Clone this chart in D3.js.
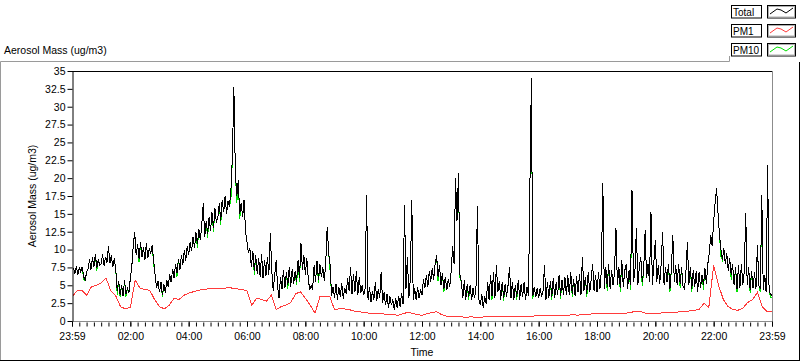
<!DOCTYPE html>
<html><head><meta charset="utf-8">
<script src="https://cdn.jsdelivr.net/npm/d3@7/dist/d3.min.js"></script>
<style>
html,body{margin:0;padding:0;background:#fff;}
svg{display:block;}
text{font-family:"Liberation Sans",Arial,sans-serif;font-size:10.5px;fill:#000;}
</style></head>
<body>
<svg id="chart" width="800" height="361"></svg>
<script>
// ---- data: minutes from 23:59; Total and PM10 at 3-min steps, PM1 at 10-min steps ----
const seriesNames = ["Total", "PM1", "PM10"];
const totalStep = 3;
const totalVals = [
6.5,7.4,6.6,7.7,6.4,7.5,6.9,7.6,6.2,5.7,6.8,7.3,8.6,7.2,8.9,7.5,9.4,7.4,8.6,7.8,
8.0,9.3,7.7,9.0,8.2,10.5,8.1,9.2,7.5,8.8,7.2,4.2,5.6,3.6,5.0,3.5,5.7,3.8,4.6,3.9,
6.0,7.6,10.5,12.5,9.2,10.8,8.7,11.0,9.0,10.4,8.6,10.9,8.8,10.2,9.4,10.6,8.5,6.4,4.6,5.6,
4.0,5.5,3.6,5.2,3.9,5.8,4.8,6.5,5.4,7.3,6.0,8.0,6.7,8.7,7.1,9.3,7.8,10.0,8.4,10.5,
9.2,11.0,9.8,11.8,10.2,12.4,10.8,12.9,11.3,13.5,16.5,11.8,14.0,12.2,14.6,12.6,15.2,13.0,15.8,13.8,
14.5,16.5,14.0,17.0,15.2,17.5,15.0,16.8,16.0,18.5,23.0,32.8,21.0,17.5,19.7,15.0,16.5,14.5,17.0,12.5,
11.0,9.5,10.2,7.5,9.8,7.0,9.2,6.6,8.8,6.2,9.4,6.0,8.6,6.3,9.0,6.5,12.3,7.0,4.2,6.5,
8.5,4.8,3.2,6.2,4.5,7.2,4.6,6.8,5.0,7.6,4.8,7.3,5.2,7.0,5.5,8.5,6.0,10.9,7.2,9.2,
6.5,8.8,6.0,4.3,5.0,4.4,7.8,5.5,8.4,5.8,8.0,6.2,7.5,5.6,8.2,13.2,9.5,7.8,3.5,4.8,
3.2,5.2,3.0,4.8,3.4,5.3,3.1,4.6,3.8,6.0,4.2,7.5,3.8,6.6,4.0,7.0,3.6,6.2,3.9,5.0,
3.6,4.5,17.6,3.0,4.8,2.6,4.2,3.0,5.5,2.8,4.5,3.2,6.9,2.5,4.0,2.2,3.8,1.8,3.5,2.2,
3.0,1.6,3.2,1.8,3.5,2.0,3.9,2.4,16.2,4.5,9.0,3.2,6.0,17.0,3.0,4.6,2.9,4.8,3.2,4.4,
3.6,5.8,4.6,6.5,4.8,7.0,5.5,7.4,5.8,8.0,9.2,6.2,7.8,5.0,6.7,4.5,6.2,4.3,5.8,4.8,
7.0,10.5,8.0,20.0,14.0,20.7,6.5,5.5,3.2,5.7,3.0,5.2,3.4,5.0,2.9,4.6,3.2,4.5,16.1,3.0,
2.2,3.8,1.8,3.5,2.4,5.5,3.0,6.5,3.5,6.8,3.2,7.8,4.0,5.6,3.0,5.5,3.2,5.2,3.4,5.0,
7.6,3.2,5.5,3.0,5.0,3.4,5.7,3.0,5.2,3.3,5.4,2.9,4.8,3.5,18.9,34.0,3.5,4.8,3.3,4.6,
3.2,4.6,3.4,4.2,7.8,3.0,5.5,3.2,5.6,3.4,6.0,3.2,5.4,3.6,6.5,3.5,5.8,3.7,6.2,3.6,
6.4,3.6,6.8,3.8,5.9,3.5,6.3,4.0,6.6,3.6,9.0,4.2,6.2,3.8,6.9,4.0,5.8,8.0,4.2,6.5,
4.0,6.8,4.5,7.0,19.3,4.5,7.6,4.8,8.0,4.5,7.2,5.0,6.8,13.0,5.0,7.5,4.6,8.5,4.8,7.0,
8.0,4.5,7.2,5.0,18.3,5.5,6.8,13.0,5.0,7.5,9.0,5.5,7.0,12.7,6.0,8.0,5.5,15.3,5.0,8.2,
11.3,5.5,7.8,5.2,8.0,12.5,5.0,7.6,5.4,8.0,4.5,7.2,12.0,5.5,7.8,5.0,8.0,5.2,7.5,4.8,
4.5,7.0,11.0,5.0,7.5,4.5,7.2,4.8,7.0,4.0,6.8,4.6,6.5,5.0,7.4,5.2,8.0,9.5,12.0,10.5,
14.0,16.5,18.6,15.0,12.0,10.0,8.5,10.2,8.0,9.5,7.0,8.8,6.5,8.0,5.0,7.5,4.5,7.8,4.6,8.0,
5.0,7.0,15.1,5.0,7.5,4.4,7.0,4.6,6.8,4.5,10.6,5.0,4.5,17.6,4.4,6.5,4.0,21.8,4.2,3.8,
3.5];
const pm10Vals = [
6.5,7.4,6.6,7.7,6.4,7.5,6.9,7.6,5.8,5.7,6.8,7.3,8.6,7.2,8.9,7.5,9.4,7.0,8.6,7.8,
8.0,9.3,7.7,9.0,8.2,10.5,8.1,9.2,7.5,8.8,7.2,3.7,5.6,3.3,5.0,3.5,5.7,3.4,4.6,3.9,
6.0,7.6,10.5,12.5,9.2,10.8,8.2,11.0,9.0,10.4,8.6,10.9,8.8,10.2,9.4,10.6,8.0,6.4,4.6,5.6,
4.0,5.5,3.3,5.2,3.9,5.8,4.8,6.5,5.4,7.3,6.0,8.0,6.2,8.7,7.1,9.3,7.8,10.0,8.4,10.5,
9.2,11.0,9.8,11.8,10.2,12.4,10.2,12.9,11.3,13.5,16.5,11.8,14.0,11.6,14.6,12.6,15.2,12.4,15.8,13.8,
14.5,16.5,13.4,17.0,15.2,17.5,15.0,16.8,16.0,17.2,23.0,32.8,21.0,16.5,19.7,14.3,16.5,14.5,17.0,12.5,
11.0,9.5,10.2,7.5,9.8,6.5,9.2,6.6,8.8,6.2,9.4,6.0,8.6,6.3,9.0,6.5,12.3,7.0,4.2,6.5,
8.5,4.8,3.2,6.2,4.5,7.2,4.6,6.8,4.5,7.6,4.8,7.3,5.2,7.0,5.0,8.5,5.4,10.9,7.2,9.2,
6.5,8.8,6.0,4.3,5.0,4.4,7.8,5.5,8.4,5.3,8.0,6.2,7.5,5.6,8.2,13.2,9.5,7.0,3.5,4.8,
3.2,5.2,3.0,4.8,3.4,5.3,3.1,4.6,3.8,6.0,4.2,7.5,3.8,6.6,4.0,7.0,3.6,6.2,3.9,5.0,
3.6,4.5,17.6,3.0,4.8,2.6,4.2,3.0,5.5,2.8,4.5,3.2,6.9,2.5,4.0,2.2,3.8,1.8,3.5,2.2,
3.0,1.6,3.2,1.8,3.5,2.0,3.9,2.4,16.2,4.5,9.0,3.2,6.0,17.0,3.0,4.6,2.9,4.8,3.2,4.4,
3.6,5.8,4.6,6.5,4.8,7.0,5.5,7.4,5.8,8.0,9.2,5.6,7.8,5.0,6.7,4.0,6.2,4.3,5.8,4.8,
7.0,10.5,8.0,20.0,14.0,20.7,6.0,5.5,3.2,5.7,3.0,5.2,3.0,5.0,2.9,4.6,3.2,4.5,16.1,3.0,
2.2,3.8,1.8,3.5,2.4,5.5,3.0,6.5,3.0,6.8,3.2,7.8,4.0,5.6,3.0,5.5,2.8,5.2,3.4,5.0,
7.6,3.2,5.5,3.0,5.0,3.0,5.7,3.0,5.2,3.3,5.4,2.9,4.8,3.5,18.9,34.0,3.1,4.8,3.3,4.6,
3.2,4.6,3.4,4.2,7.8,3.0,5.5,3.2,5.6,3.0,6.0,3.2,5.4,3.6,6.5,3.1,5.8,3.7,6.2,3.6,
6.4,3.6,6.8,3.4,5.9,3.5,6.3,4.0,6.6,3.6,9.0,4.2,6.2,3.3,6.9,4.0,5.8,8.0,4.2,6.5,
4.0,6.8,4.5,7.0,19.3,4.5,7.6,4.2,8.0,4.5,7.2,5.0,6.8,13.0,5.0,7.5,4.0,8.5,4.8,7.0,
8.0,4.5,7.2,4.4,18.3,5.5,6.8,13.0,5.0,7.5,9.0,4.9,7.0,12.7,6.0,8.0,5.5,15.3,5.0,8.2,
11.3,5.5,7.8,5.2,8.0,12.5,5.0,7.6,5.4,8.0,4.0,7.2,12.0,5.5,7.8,5.0,8.0,4.6,7.5,4.8,
4.5,7.0,11.0,5.0,7.5,4.0,7.2,4.8,7.0,4.0,6.8,4.6,6.5,4.4,7.4,5.2,8.0,9.5,12.0,10.5,
14.0,16.5,18.6,15.0,12.0,9.0,8.5,10.2,8.0,9.5,7.0,8.8,5.8,8.0,5.0,7.5,4.0,7.8,4.6,8.0,
5.0,7.0,15.1,5.0,7.5,3.9,7.0,4.6,6.8,4.5,10.6,5.0,4.0,17.6,4.4,6.5,4.0,21.8,4.2,3.3,
3.2];
const pm1Step = 10;
const pm1Vals = [
3.4,4.2,4.3,3.6,4.8,5.0,5.3,6.0,4.2,3.5,
2.0,1.7,1.9,5.7,4.6,4.4,4.3,3.0,2.0,1.7,
2.2,3.2,3.0,3.6,3.9,4.1,4.3,4.4,4.5,4.5,
4.6,4.5,4.7,4.6,4.5,4.4,4.2,2.2,3.2,3.0,
2.8,3.6,1.6,2.0,2.2,2.6,3.8,4.1,3.2,2.2,
1.1,3.4,3.5,3.5,1.6,1.7,1.7,1.6,1.4,1.3,
1.2,1.1,1.1,1.0,1.0,0.9,0.9,0.8,1.0,1.2,
1.1,0.9,0.8,1.0,1.2,1.3,0.9,0.7,
0.7,0.6,0.6,0.5,0.6,0.5,0.5,0.6,0.6,0.6,0.7,0.6,0.6,0.7,0.7,0.6,
0.7,0.7,0.8,0.7,0.8,0.8,0.7,0.8,0.8,0.9,0.8,0.9,0.9,1.0,1.0,
1.0,1.1,1.1,1.0,1.1,1.1,1.2,1.4,1.3,1.1,1.1,1.1,1.1,1.2,1.2,1.2,
1.3,1.3,1.4,1.5,1.6,2.5,1.9,7.8,5.0,3.0,2.0,1.6,1.5,1.8,2.6,3.0,
4.0,2.0,1.3,1.3];
const xTickLabels = ["23:59","02:00","04:00","06:00","08:00","10:00","12:00","14:00","16:00","18:00","20:00","22:00","23:59"];
const yTickValues = [0,2.5,5,7.5,10,12.5,15,17.5,20,22.5,25,27.5,30,32.5,35];
const colors = {Total:"#000000", PM1:"#ff3b3b", PM10:"#00e000"};

// ---- layout ----
const svg = d3.select("#chart");
const L = 72, R = 772, T = 71, B = 321;
const x = d3.scaleLinear().domain([0, 1440]).range([L, R]);
const y = d3.scaleLinear().domain([0, 35]).range([B, T]);

// outer frame
svg.append("line").attr("x1",0.5).attr("x2",729.5).attr("y1",61.5).attr("y2",61.5).attr("stroke","#9a9a9a");
svg.append("line").attr("x1",0.5).attr("x2",0.5).attr("y1",61.5).attr("y2",360).attr("stroke","#9a9a9a");
svg.append("line").attr("x1",729.5).attr("x2",729.5).attr("y1",56).attr("y2",61.5).attr("stroke","#9a9a9a");
svg.append("line").attr("x1",799.5).attr("x2",799.5).attr("y1",62).attr("y2",361).attr("stroke","#000");
svg.append("line").attr("x1",0).attr("x2",800).attr("y1",360.5).attr("y2",360.5).attr("stroke","#000");

// title
svg.append("text").attr("x",4).attr("y",54).text("Aerosol Mass (ug/m3)");

// plot border
svg.append("line").attr("x1",L).attr("x2",R).attr("y1",T+0.5).attr("y2",T+0.5).attr("stroke","#000");
svg.append("line").attr("x1",R+0.5).attr("x2",R+0.5).attr("y1",T).attr("y2",B+1).attr("stroke","#8c8c8c");
svg.append("line").attr("x1",L).attr("x2",R+1).attr("y1",B+0.5).attr("y2",B+0.5).attr("stroke","#8c8c8c");

// clip
svg.append("clipPath").attr("id","clip").append("rect").attr("x",L+1).attr("y",T+1).attr("width",R-L-1).attr("height",B-T);

const g = svg.append("g").attr("clip-path","url(#clip)");
const lineT = d3.line().x((d,i)=>x(i*totalStep)).y(d=>y(d));
const line1 = d3.line().x((d,i)=>x(i*pm1Step)).y(d=>y(d));
g.append("path").datum(pm10Vals).attr("d",lineT).attr("fill","none").attr("stroke",colors.PM10).attr("stroke-width",1).attr("shape-rendering","crispEdges");
g.append("path").datum(pm1Vals).attr("d",line1).attr("fill","none").attr("stroke",colors.PM1).attr("stroke-width",1).attr("shape-rendering","crispEdges");
g.append("path").datum(totalVals).attr("d",lineT).attr("fill","none").attr("stroke",colors.Total).attr("stroke-width",1).attr("shape-rendering","crispEdges");

// y axis
const yAxis = d3.axisLeft(y).tickValues(yTickValues).tickSize(5).tickSizeOuter(0).tickPadding(2).tickFormat(d=>String(d));
const yg = svg.append("g").attr("transform",`translate(${L+0.5},0)`).call(yAxis);
yg.select(".domain").attr("stroke","#000");
yg.selectAll(".tick line").attr("stroke","#000");
yg.selectAll("text").style("font-family","Liberation Sans, Arial, sans-serif").style("font-size","10.5px");

// x axis minor ticks
const minor = d3.range(0, 1441, 15);
const xMinor = d3.axisBottom(x).tickValues(minor).tickSize(4).tickSizeOuter(0).tickFormat("");
const xm = svg.append("g").attr("transform",`translate(0,${B+1.5})`).call(xMinor);
xm.select(".domain").remove();
xm.selectAll(".tick line").attr("stroke","#000");
// major ticks with labels
const major = d3.range(0, 1441, 120);
const xMajor = d3.axisBottom(x).tickValues(major).tickSize(5).tickSizeOuter(0).tickPadding(6)
  .tickFormat((d,i)=>xTickLabels[i]);
const xg = svg.append("g").attr("transform",`translate(0,${B+0.5})`).call(xMajor);
xg.select(".domain").remove();
xg.selectAll(".tick line").attr("stroke","#000");
xg.selectAll("text").style("font-family","Liberation Sans, Arial, sans-serif").style("font-size","10.5px");

// axis titles
svg.append("text").attr("x",(L+R)/2).attr("y",356).attr("text-anchor","middle").text("Time");
svg.append("text").attr("transform",`translate(36,${(T+B)/2}) rotate(-90)`).attr("text-anchor","middle").text("Aerosol Mass (ug/m3)");

// legend
const legTop = [5, 24, 43];
seriesNames.forEach((name, k) => {
  const yy = legTop[k];
  svg.append("rect").attr("x",731.5).attr("y",yy+0.5).attr("width",30).attr("height",12.5).attr("fill","#fff").attr("stroke","#000");
  svg.append("text").attr("x",733).attr("y",yy+11).style("font-size","10px").text(name);
  svg.append("rect").attr("x",767.5).attr("y",yy+0.5).attr("width",28).attr("height",12.5).attr("fill","#fff").attr("stroke","#000");
  svg.append("rect").attr("x",768.5).attr("y",yy+1.5).attr("width",26).attr("height",10.5).attr("fill","none").attr("stroke","#b0b0b0");
  const pts = [[770, yy+9], [777, yy+4], [781, yy+5], [786, yy+8], [793, yy+3]];
  svg.append("path").attr("d", d3.line()(pts)).attr("fill","none").attr("stroke",colors[name]).attr("stroke-width",1);
});
</script>
</body></html>
